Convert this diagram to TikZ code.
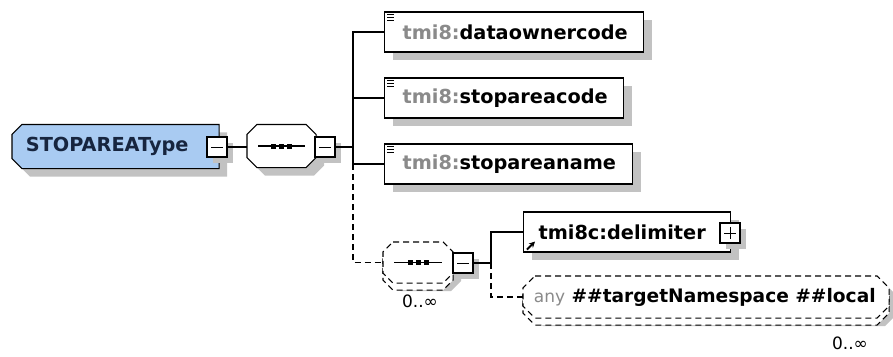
\documentclass[tikz,border=0pt]{standalone}
\usepackage{fontspec}
\setmainfont{DejaVu Sans}
\usetikzlibrary{shadows,arrows.meta}
\definecolor{typeblue}{HTML}{A9CBF2}
\definecolor{typeink}{HTML}{17253F}
\definecolor{nsgray}{HTML}{8A8A8A}
\newcommand\octpath[2]{([xshift=#2]#1.north west) -- ([xshift=-#2]#1.north east)
  -- ([yshift=-#2]#1.north east) -- ([yshift=#2]#1.south east)
  -- ([xshift=-#2]#1.south east) -- ([xshift=#2]#1.south west)
  -- ([yshift=#2]#1.south west) -- ([yshift=-#2]#1.north west) -- cycle}
\newcommand\lbox[2]{\makebox[#1][l]{#2}}

\begin{document}
\begin{tikzpicture}[
  x=1pt, y=-1pt, line width=1.1pt,
  shd/.style={drop shadow={shadow xshift=8pt, shadow yshift=-8pt, fill=black!24, opacity=1}},
  dashes/.style={dash pattern=on 6pt off 4pt},
  hold/.style={anchor=west, inner ysep=0pt, font=\fontsize{19.3}{21}\selectfont\bfseries},
  elem/.style={hold, draw, fill=white, minimum height=40pt, shd},
  pm/.style={draw, fill=white, minimum size=20pt, inner sep=0pt,
    drop shadow={shadow xshift=6pt, shadow yshift=-6pt, fill=black!24, opacity=1}},
  minus/.style={pm, path picture={\draw[line width=1pt]
    ([xshift=4pt]path picture bounding box.west) --
    ([xshift=-4pt]path picture bounding box.east);}},
  plus/.style={pm, path picture={\draw[line width=1pt]
    ([xshift=4pt]path picture bounding box.west) --
    ([xshift=-4pt]path picture bounding box.east)
    ([yshift=-4pt]path picture bounding box.north) --
    ([yshift=4pt]path picture bounding box.south);}},
  occurs/.style={font=\fontsize{17}{18}\selectfont}]
\useasboundingbox (0,0) rectangle (893,356);

\node[hold, minimum width=206pt, minimum height=43pt] (root) at (12,146.5) {};
\node[hold, minimum width=68pt, minimum height=42pt] (s1) at (247,146) {};
\node[hold, minimum width=69pt, minimum height=40pt] (s2) at (383,262.5) {};
\node[hold, minimum width=365pt, minimum height=41pt] (a1) at (523,297) {};

\draw[fill=typeblue, shd] (root.north east) -- ([xshift=10pt]root.north west)
  -- ([yshift=-10pt]root.north west) -- ([yshift=10pt]root.south west)
  -- ([xshift=10pt]root.south west) -- (root.south east) -- cycle;
\draw[fill=white, shd] \octpath{s1}{10pt};
\foreach \s/\c in {s2/10pt,a1/12pt} {
  \draw[dashes, fill=white, shd, transform canvas={yshift=-7pt}] \octpath{\s}{\c};
  \draw[dashes, fill=white] \octpath{\s}{\c};
}

\node[hold, text=typeink] (rootname) at ([xshift=10pt]root.west) {STOPAREAType};
\node[minus] (m1) at (217,147) {};
\node[minus] (m2) at (325,147) {};

\node[elem, inner xsep=18pt] (c1) at (384,32)
  {\lbox{223pt}{\textcolor{nsgray}{tmi8:}dataownercode}};
\node[elem, inner xsep=18pt] (c2) at (384,98)
  {\lbox{203pt}{\textcolor{nsgray}{tmi8:}stopareacode}};
\node[elem, inner xsep=18pt] (c3) at (384,164)
  {\lbox{212pt}{\textcolor{nsgray}{tmi8:}stopareaname}};

\node[minus] (m3) at (463,263) {};
\node[occurs] (o1) at (420,301) {0..∞};

\node[elem, inner xsep=15pt] (d1) at (523,232) {\lbox{177pt}{tmi8c:delimiter}};
\node[plus] (p1) at (730,233) {};
\node[hold, font=\fontsize{18.6}{20}\selectfont\bfseries] (anyname) at ([xshift=7pt]a1.west)
  {\textcolor{nsgray}{\mdseries\fontsize{17}{18}\selectfont any}\ \#\#targetNamespace \#\#local};
\node[occurs] (o2) at (850,343) {0..∞};

\foreach \s in {s1,s2} {
  \draw ([xshift=11pt]\s.west) -- ([xshift=-11pt]\s.east);
  \foreach \dx in {-8,0,8}
    \fill ([xshift=\dx pt]\s.center) +(-2.5,-2.5) rectangle +(2.5,2.5);
}
\foreach \c in {c1,c2,c3}
  \foreach \dy in {3,6,9}
    \draw[line width=0.8pt] ([shift={(3,\dy)}]\c.north west) -- ++(7,0);
\draw[-{Stealth[length=6pt,width=6pt]}, line width=2pt] ([shift={(4,-3)}]d1.south west) -- ++(8,-8);

\coordinate (t1) at (353,147);
\coordinate (t2) at (491,263);
\draw (m1.east) -- (m1.east -| s1.west);
\draw (m2.east) -- (t1);
\draw (c1.west) -- (c1.west -| t1) -- (c3.west -| t1) -- (c3.west);
\draw (c2.west) -- (c2.west -| t1);
\draw[dashes] (c3.west -| t1) |- (s2.west);
\draw (m3.east) -- (t2);
\draw (d1.west) -| (t2);
\draw[dashes] (t2) |- (a1.west);
\end{tikzpicture}
\end{document}
